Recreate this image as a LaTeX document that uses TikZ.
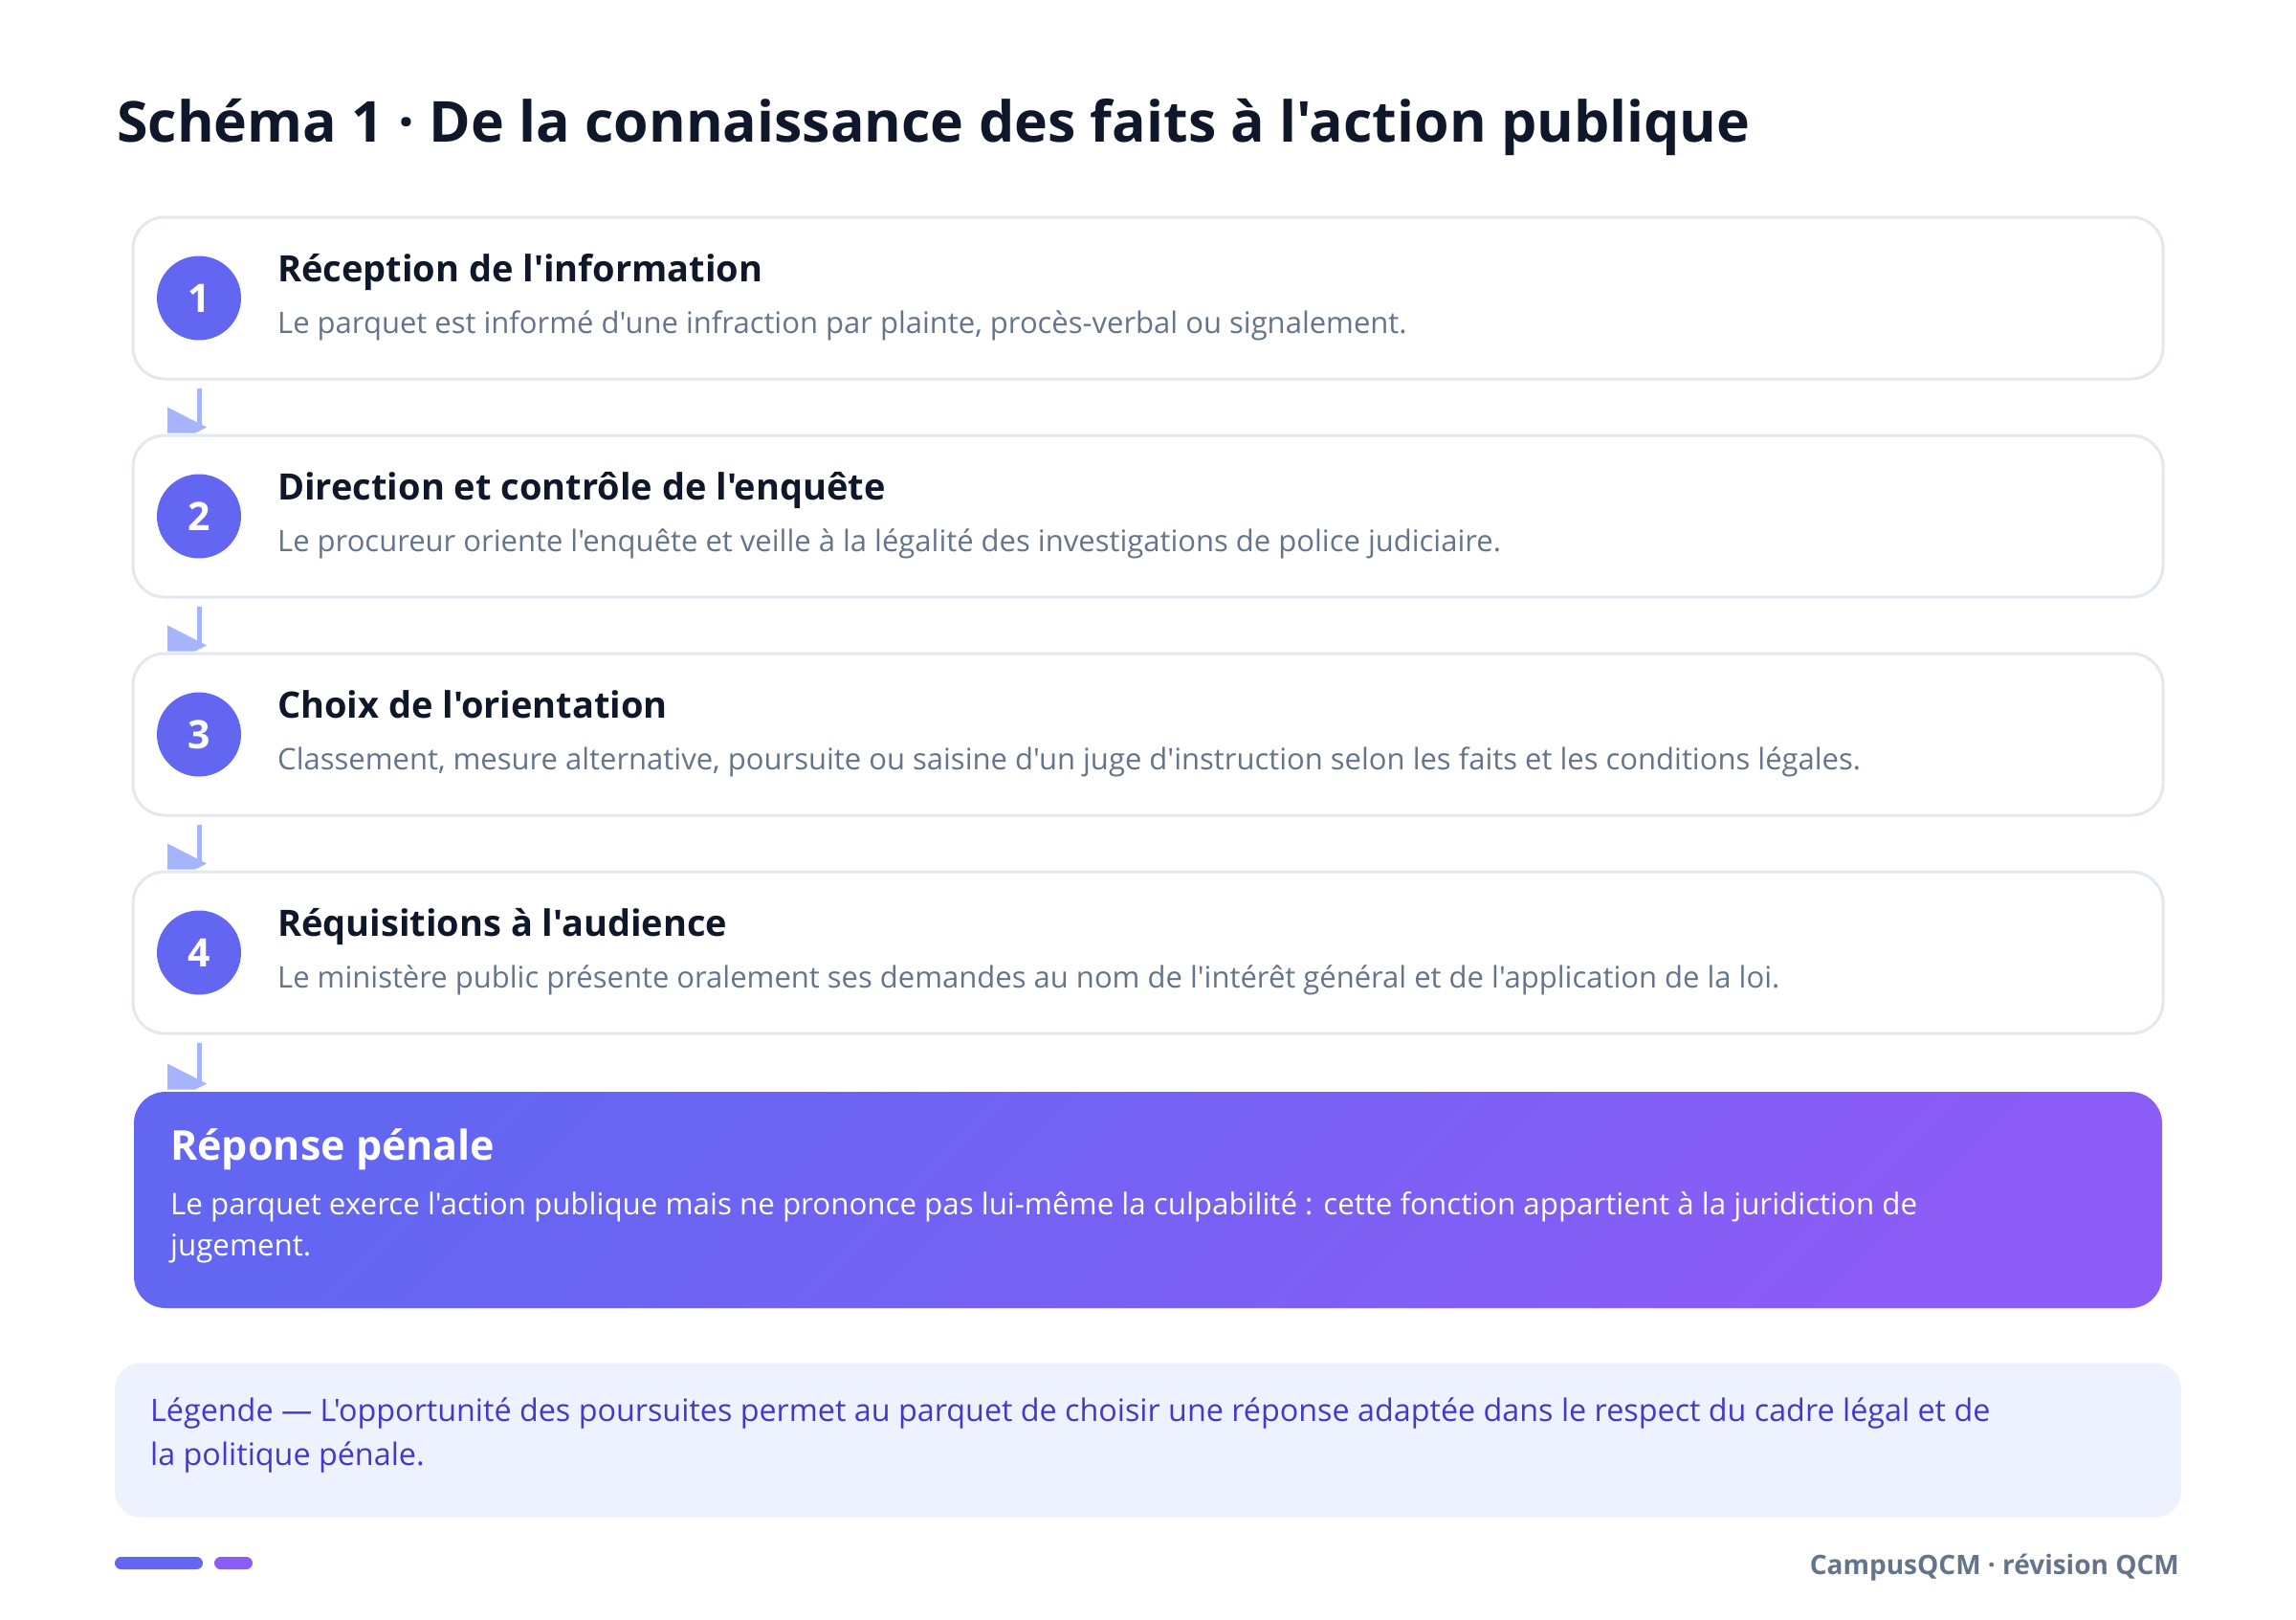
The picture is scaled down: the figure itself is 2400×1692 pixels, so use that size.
\documentclass[tikz,border=0pt]{standalone}
\usepackage{fontspec}
\setmainfont{Open Sans}
\newfontfamily\osans{Open Sans}
\usetikzlibrary{calc,positioning}

\definecolor{inkc}{HTML}{0F172A}
\definecolor{slatec}{HTML}{64748B}
\definecolor{linec}{HTML}{E2E8F0}
\definecolor{indc}{HTML}{6366F1}
\definecolor{violc}{HTML}{8B5CF6}
\definecolor{arrc}{HTML}{A5B4FC}
\definecolor{legbg}{HTML}{EEF2FF}
\definecolor{legtx}{HTML}{4338CA}

\begin{document}
\begin{tikzpicture}[x=1pt,y=-1pt,
  card/.style={draw=linec,line width=3pt,fill=white,rounded corners=33pt,minimum width=2122pt,minimum height=169pt,inner sep=0pt},
  num/.style={circle,fill=indc,text=white,minimum size=88pt,inner sep=0pt,font=\osans\fontsize{41}{41}\selectfont\bfseries},
  ttl/.style={anchor=base west,inner sep=0pt,text=inkc,font=\osans\fontsize{38}{44}\selectfont\bfseries},
  txt/.style={anchor=base west,inner sep=0pt,text=slatec,font=\osans\fontsize{31}{38}\selectfont},
  link/.style={draw=arrc,line width=5pt,shorten <=8pt,shorten >=7pt},
  pill/.style={rounded corners=6.5pt,minimum height=13pt,inner sep=0pt}]
  \fill[white] (0,0) rectangle (2400,1692);
  \useasboundingbox (0,0) rectangle (2400,1692);

  \node[anchor=base west,inner sep=0pt,text=inkc,font=\osans\fontsize{59}{64}\selectfont\bfseries] (title) at (122,148) {Schéma 1 · De la connaissance des faits à l'action publique};

  % etapes
  \foreach \i/\t/\d [count=\k from 0] in {
    1/{Réception de l'information}/{Le parquet est informé d'une infraction par plainte, procès-verbal ou signalement.},
    2/{Direction et contrôle de l'enquête}/{Le procureur oriente l'enquête et veille à la légalité des investigations de police judiciaire.},
    3/{Choix de l'orientation}/{Classement, mesure alternative, poursuite ou saisine d'un juge d'instruction selon les faits et les conditions légales.},
    4/{Réquisitions à l'audience}/{Le ministère public présente oralement ses demandes au nom de l'intérêt général et de l'application de la loi.}} {
    \node[card] (box\i) at (1200,{311.5+228*\k}) {};
    \node[num] (num\i) at (208,{311.5+228*\k}) {\i};
    \node[ttl] (head\i) at (290,{294+228*\k}) {\t};
    \node[txt] (desc\i) at (290,{348+228*\k}) {\d};
  }

  % reponse
  \node[card,draw=none,top color=indc,bottom color=violc,shading angle=45,minimum width=2120pt,minimum height=226pt] (resp) at (1200,1254) {};
  \node[ttl,text=white,font=\osans\fontsize{43}{48}\selectfont\bfseries] (resphead) at (178,1212) {Réponse pénale};
  \node[txt,text=white,align=left,font=\osans\fontsize{31.3}{43}\selectfont] (respdesc) at (178,1312) {Le parquet exerce l'action publique mais ne prononce pas lui-même la culpabilité : cette fonction appartient à la juridiction de\\jugement.};

  \foreach \i/\j in {1/box2,2/box3,3/box4,4/resp} {
    \draw[link] (num\i |- box\i.south) -- (num\i |- \j.north);
    \fill[arrc] ($(num\i |- \j.north)+(-33,-28)$) -- ++(41,21) -- ++(-12,6) -- ++(-29,0) -- cycle;
  }

  % legende
  \node[fill=legbg,rounded corners=27pt,minimum width=2160pt,minimum height=161pt,inner sep=0pt] (legend) at (1200,1505) {};
  \node[txt,text=legtx,align=left,font=\osans\fontsize{32.3}{46}\selectfont] (legtext) at (157,1531) {Légende — L'opportunité des poursuites permet au parquet de choisir une réponse adaptée dans le respect du cadre légal et de\\la politique pénale.};

  \node[pill,fill=indc,minimum width=92pt] (pill1) at (166,1633.5) {};
  \node[pill,fill=violc,minimum width=40pt] (pill2) at (244,1633.5) {};
  \node[anchor=base east,inner sep=0pt,text=slatec,font=\osans\fontsize{28}{32}\selectfont\bfseries] (foot) at (2278,1645) {CampusQCM · révision QCM};
\end{tikzpicture}
\end{document}
